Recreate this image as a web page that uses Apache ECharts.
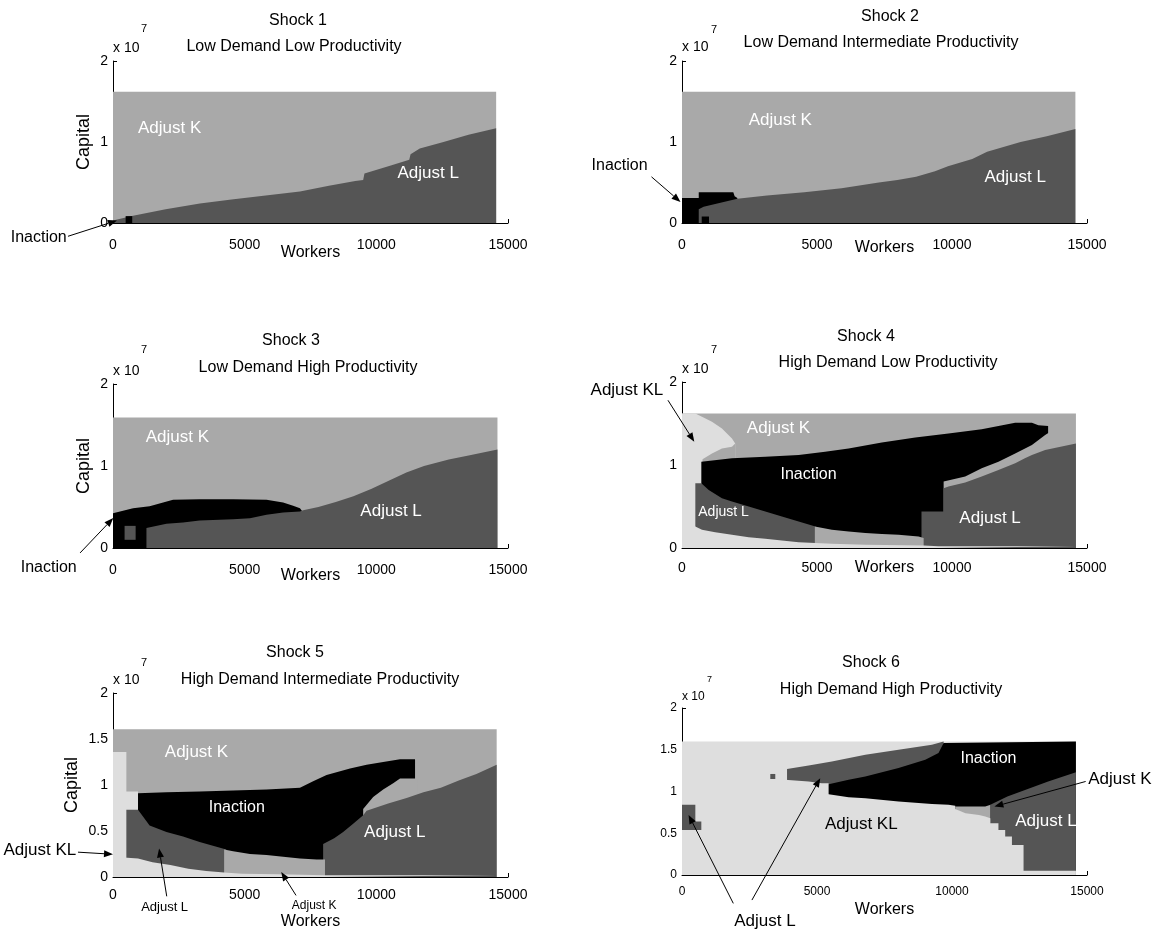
<!DOCTYPE html>
<html><head><meta charset="utf-8">
<script src="https://cdn.jsdelivr.net/npm/echarts@6.0.0/dist/echarts.min.js"></script>
<style>html,body{margin:0;padding:0;background:#fff}#c{width:1165px;height:936px}</style>
</head><body><div id="c"></div>
<script>
// ---------------- DATA (workers, capital in units of 10^7) ----------------
const shockNames = ['Shock 1','Shock 2','Shock 3','Shock 4','Shock 5','Shock 6'];
const shockSubtitles = ['Low Demand Low Productivity','Low Demand Intermediate Productivity','Low Demand High Productivity',
  'High Demand Low Productivity','High Demand Intermediate Productivity','High Demand High Productivity'];
const xTickValues = [0, 5000, 10000, 15000];
const yTickValuesCoarse = [0, 1, 2];
const yTickValuesFine = [0, 0.5, 1, 1.5, 2];
const capitalExponent = '7';
const xAxisName = 'Workers';
const yAxisName = 'Capital';

// Shock 1
const p1AdjustK = [[0,1.62],[14550,1.62]];
const p1AdjustL = [[0,0.03],[760,0.09],[2000,0.17],[3300,0.24],[4500,0.29],[5800,0.34],[7100,0.39],[8200,0.46],[9200,0.52],[9500,0.53],[9550,0.61],[10550,0.71],[11250,0.78],[11300,0.85],[11650,0.92],[12550,1.0],[13500,1.09],[14550,1.17]];
const p1Inaction = [[480,0.085],[730,0.085]];
// Shock 2
const p2AdjustK = [[0,1.62],[14570,1.62]];
const p2Inaction = [[0,0.31],[620,0.31],[620,0.38],[1900,0.38],[1950,0.33],[2050,0.31]];
const p2AdjustL = [[620,0.17],[800,0.2],[2050,0.3],[3150,0.34],[4530,0.38],[5910,0.43],[7290,0.5],[7980,0.53],[8670,0.57],[9370,0.64],[9850,0.7],[10750,0.79],[11300,0.88],[12540,1.0],[13510,1.07],[14570,1.16]];
const p2InactionSpot = [[730,0.08],[1000,0.08]];
// Shock 3
const p3AdjustK = [[0,1.59],[14600,1.59]];
const p3Inaction = [[0,0.425],[760,0.486],[1390,0.51],[2280,0.587],[3290,0.595],[4560,0.595],[5830,0.587],[6460,0.555],[6840,0.514],[7100,0.486],[7220,0.433]];
const p3AdjustL = [[1270,0.243],[2030,0.296],[2660,0.31],[3290,0.336],[4560,0.352],[5200,0.364],[5830,0.405],[6460,0.433],[7100,0.445],[7220,0.46],[7800,0.5],[8460,0.56],[9130,0.63],[9800,0.72],[10470,0.82],[11140,0.92],[11810,1.0],[12750,1.08],[13550,1.13],[14600,1.2]];
const p3AdjustLSpot = [[440,0.27],[860,0.27]];
const p3InactionSpot = [[370,0.1],[930,0.1]];
// Shock 4
const p4AdjustK = [[0,1.62],[14590,1.62]];
const p4AdjustKL = [[0,1.62],[494,1.62],[740,1.58],[1110,1.52],[1480,1.44],[1850,1.32],[1970,1.26]];
const p4AdjustKFan = [[760,1.07],[1110,1.14],[1480,1.2],[1850,1.22],[1970,1.26]];
const p4Inaction = [[716,1.04],[1850,1.08],[3085,1.1],[4320,1.12],[5300,1.16],[6170,1.2],[7400,1.27],[8640,1.33],[9870,1.38],[11100,1.43],[11720,1.47],[12340,1.51],[12960,1.51],[13200,1.48],[13560,1.47]];
const p4AdjustKStrip = [[9690,0.8],[10490,0.86],[11100,0.96],[11720,1.04],[12340,1.14],[12960,1.24],[13450,1.36],[13640,1.4]];
const p4AdjustLRight = [[8870,0.44],[9690,0.44],[9690,0.72],[9870,0.74],[10490,0.79],[11100,0.86],[11720,0.94],[12340,1.02],[12700,1.08],[12960,1.12],[13450,1.18],[14590,1.26]];
const p4AdjustLLeft = [[494,0.78],[716,0.78],[716,0.76],[990,0.7],[1480,0.6],[1850,0.56],[2470,0.5],[3085,0.44],[3700,0.38],[4320,0.32],[4940,0.26],[5000,0.255]];
const p4AdjustKBottom = [[4920,0.26],[5550,0.22],[6170,0.2],[6790,0.18],[7400,0.17],[8020,0.16],[8760,0.14],[8950,0.12]];
const p4AdjustKLBottom = [[0,0.26],[494,0.26],[740,0.22],[1230,0.19],[1850,0.16],[2470,0.13],[3085,0.11],[3700,0.09],[4320,0.07],[4940,0.06],[5550,0.05],[6790,0.04],[8950,0.03],[9500,0.02],[14590,0.02]];
// Shock 5
const p5AdjustK = [[0,1.607],[14570,1.607]];
const p5AdjustKLLeft = [[0,1.36],[507,1.36],[507,0.93],[950,0.93]];
const p5Inaction = [[950,0.91],[2030,0.92],[3290,0.93],[4560,0.94],[5830,0.95],[7100,0.97],[7600,1.04],[8110,1.11],[9000,1.18],[9630,1.22],[10260,1.25],[10900,1.28],[11470,1.28]];
const p5AdjustKStrip = [[9500,0.74],[9880,0.87],[10260,0.95],[10640,1.02],[10900,1.07],[11550,1.07]];
const p5AdjustLRight = [[7980,0.36],[8400,0.42],[8740,0.49],[9120,0.58],[9500,0.67],[9630,0.72],[10450,0.8],[11150,0.86],[11790,0.92],[12450,0.97],[13130,1.05],[13800,1.12],[14570,1.22]];
const p5AdjustLLeft = [[507,0.73],[950,0.73],[950,0.71],[1390,0.56],[2030,0.49],[2660,0.44],[3290,0.38],[3930,0.33],[4300,0.3]];
const p5AdjustKBottom = [[4220,0.3],[4560,0.28],[5200,0.25],[5830,0.24],[6460,0.22],[7100,0.2],[7730,0.19],[8050,0.19]];
const p5AdjustKLBottom = [[0,0.22],[950,0.2],[1500,0.16],[2180,0.13],[2860,0.09],[3540,0.065],[4220,0.05],[4900,0.035],[6250,0.03],[8050,0.02],[14570,0.02]];
// Shock 6
const p6AdjustKL = [[0,1.6],[14590,1.6]];
const p6AdjustLUpperSpot = [[3270,1.21],[3455,1.21]];
const p6AdjustLUpper = [[3890,1.27],[4690,1.31],[5550,1.36],[6790,1.44],[8020,1.5],[9255,1.56],[9690,1.6]];
const p6Inaction = [[5350,1.08],[6170,1.14],[6790,1.18],[8020,1.28],[9010,1.38],[9500,1.46],[9690,1.58],[9720,1.6],[14590,1.6]];
const p6AdjustKLCutSpot = [[3190,1.15],[3535,1.15]];
const p6AdjustKLCut = [[3810,1.14],[4690,1.12],[5180,1.1],[5430,1.1]];
const p6AdjustKStrip = [[10120,0.82],[11000,0.82],[11230,0.82],[11430,0.84]];
const p6AdjustLRight = [[11420,0.84],[12050,0.94],[12730,1.02],[13560,1.12],[14590,1.23]];
const p6AdjustKLLower = [[5370,0.97],[6170,0.93],[6790,0.92],[8020,0.88],[9255,0.85],[9870,0.84],[10120,0.83],[10120,0.79],[10500,0.74],[11000,0.72],[11230,0.7],[11420,0.68],[11420,0.62],[11720,0.62],[11720,0.54],[11970,0.54],[11970,0.46],[12220,0.46],[12220,0.36],[12650,0.36],[12650,0.05],[14590,0.05]];
const p6AdjustLLeft = [[0,0.84],[494,0.84],[494,0.64],[716,0.64]];
const p6AdjustKLLeft = [[0,0.54],[800,0.54]];

// annotations: [text, workers, capital]
const p1Notes = [['Adjust K',2150,1.17],['Adjust L',11970,0.61],['Inaction',-2820,-0.18]];
const p2Notes = [['Adjust K',3640,1.27],['Adjust L',12340,0.57],['Inaction',-2310,0.71]];
const p3Notes = [['Adjust K',2445,1.35],['Adjust L',10560,0.445],['Inaction',-2440,-0.243]];
const p4Notes = [['Adjust K',3575,1.44],['Inaction',4686,0.89],['Adjust L',1540,0.43],['Adjust L',11410,0.36],['Adjust KL',-2040,1.9]];
const p5Notes = [['Adjust K',3170,1.36],['Inaction',4700,0.75],['Adjust L',10700,0.49],['Adjust KL',-2780,0.29],['Adjust L',1960,-0.327],['Adjust K',7640,-0.31]];
const p6Notes = [['Inaction',11350,1.39],['Adjust KL',6640,0.61],['Adjust L',13480,0.64],['Adjust K',16220,1.14],['Adjust L',3070,-0.56]];
// arrows: [[fromWorkers, fromCapital],[toWorkers, toCapital]]
const p1Arrows = [[[-1710,-0.164],[150,0.03]]];
const p2Arrows = [[[-1130,0.57],[-55,0.26]]];
const p3Arrows = [[[-1250,-0.06],[10,0.365]]];
const p4Arrows = [[[-520,1.78],[455,1.28]]];
const p5Arrows = [[[-1330,0.27],[0,0.247]],[[2040,-0.21],[1750,0.31]],[[6950,-0.2],[6390,0.055]]];
const p6Arrows = [[[14950,1.12],[11570,0.82]],[[1900,-0.34],[244,0.72]],[[2590,-0.3],[5120,1.16]]];

// ---------------- STYLE / LAYOUT ----------------
const FONT = "'Liberation Sans', Arial, Helvetica, sans-serif";
const COLORS = {'Adjust K':'#a9a9a9','Adjust L':'#555555','Inaction':'#000000','Adjust KL':'#dedede'};
const W = '#ffffff', B = '#000000';
const noteStyles = [
  [[W,17],[W,17],[B,16]],
  [[W,17],[W,17],[B,16]],
  [[W,17],[W,17],[B,16]],
  [[W,17],[W,16],[W,14],[W,17],[B,17]],
  [[W,17],[W,16],[W,17],[B,17],[B,13],[B,12]],
  [[W,16],[B,17],[W,17],[B,17],[B,17]]
];
const LAYOUT = [
  {left:113,top:61,width:395,height:162,xMargin:15,xNameGap:22,yName:true,yNameGap:20,t1:[298,21],t2:[294,47],tick:14,yTicks:yTickValuesCoarse,ex:[0,-13,28,-32,14]},
  {left:682,top:61,width:405,height:162,xMargin:15,xNameGap:17,yName:false,t1:[890,17],t2:[881,43],tick:14,yTicks:yTickValuesCoarse,ex:[0,-14,29,-31,14]},
  {left:113,top:384,width:395,height:164,xMargin:15,xNameGap:20,yName:true,yNameGap:20,t1:[291,341],t2:[308,368],tick:14,yTicks:yTickValuesCoarse,ex:[0,-13,28,-34,14]},
  {left:682,top:382,width:405,height:166,xMargin:13,xNameGap:12,yName:false,t1:[866,337],t2:[888,363],tick:14,yTicks:yTickValuesCoarse,ex:[0,-13,29,-32,14]},
  {left:113,top:693,width:395,height:184,xMargin:11,xNameGap:37,yName:true,yNameGap:32,t1:[295,653],t2:[320,680],tick:14,yTicks:yTickValuesFine,ex:[0,-13,28,-30,14]},
  {left:682,top:708,width:405,height:167,xMargin:11,xNameGap:27,yName:false,t1:[871,663],t2:[891,690],tick:12,yTicks:yTickValuesFine,ex:[0,-11,25,-28,12]}
];

const panelLayers = [
  [['Adjust K',p1AdjustK],['Adjust L',p1AdjustL],['Inaction',p1Inaction]],
  [['Adjust K',p2AdjustK],['Inaction',p2Inaction],['Adjust L',p2AdjustL],['Inaction',p2InactionSpot]],
  [['Adjust K',p3AdjustK],['Inaction',p3Inaction],['Adjust L',p3AdjustL],['Adjust L',p3AdjustLSpot],['Inaction',p3InactionSpot]],
  [['Adjust K',p4AdjustK],['Adjust KL',p4AdjustKL],['Adjust K',p4AdjustKFan],['Inaction',p4Inaction],
   ['Adjust K',p4AdjustKStrip],['Adjust L',p4AdjustLRight],['Adjust L',p4AdjustLLeft],['Adjust K',p4AdjustKBottom],['Adjust KL',p4AdjustKLBottom]],
  [['Adjust K',p5AdjustK],['Adjust KL',p5AdjustKLLeft],['Inaction',p5Inaction],['Adjust K',p5AdjustKStrip],['Adjust L',p5AdjustLRight],
   ['Adjust L',p5AdjustLLeft],['Adjust K',p5AdjustKBottom],['Adjust KL',p5AdjustKLBottom]],
  [['Adjust KL',p6AdjustKL],['Adjust L',p6AdjustLUpperSpot],['Adjust L',p6AdjustLUpper],['Inaction',p6Inaction],['Adjust KL',p6AdjustKLCutSpot],
   ['Adjust KL',p6AdjustKLCut],['Adjust K',p6AdjustKStrip],['Adjust L',p6AdjustLRight],['Adjust KL',p6AdjustKLLower],['Adjust L',p6AdjustLLeft],['Adjust KL',p6AdjustKLLeft]]
];
const panelNotes = [p1Notes,p2Notes,p3Notes,p4Notes,p5Notes,p6Notes];
const panelArrows = [p1Arrows,p2Arrows,p3Arrows,p4Arrows,p5Arrows,p6Arrows];

// ---------------- CHART ----------------
const chart = echarts.init(document.getElementById('c'), null, {renderer:'canvas'});
const series = [];
panelLayers.forEach((layers, i) => {
  layers.forEach(([name, data]) => {
    series.push({
      type:'line', name, xAxisIndex:i, yAxisIndex:i, data,
      symbol:'none', showSymbol:false, silent:true, animation:false,
      lineStyle:{width:0, opacity:0}, areaStyle:{color:COLORS[name], opacity:1},
      emphasis:{disabled:true}, z:2
    });
  });
});
const axisLineStyle = {show:true, onZero:false, lineStyle:{color:'#000', width:1}};
const axisTickStyle = {show:true, inside:true, length:4, lineStyle:{color:'#000', width:1}};
const plain = v => String(v);
const option = {
  backgroundColor:'#ffffff',
  animation:false,
  grid: LAYOUT.map(l => ({left:l.left, top:l.top, width:l.width, height:l.height, containLabel:false, outerBoundsMode:'none'})),
  xAxis: LAYOUT.map((l,i) => ({
    type:'value', gridIndex:i, min:xTickValues[0], max:xTickValues[xTickValues.length-1], interval:xTickValues[1]-xTickValues[0],
    axisLine:axisLineStyle, axisTick:axisTickStyle, splitLine:{show:false},
    axisLabel:{color:'#000', fontSize:l.tick, fontFamily:FONT, margin:l.xMargin, formatter:plain},
    name:xAxisName, nameLocation:'middle', nameGap:l.xNameGap, nameMoveOverlap:false,
    nameTextStyle:{color:'#000', fontSize:16, fontFamily:FONT}
  })),
  yAxis: LAYOUT.map((l,i) => ({
    type:'value', gridIndex:i, min:l.yTicks[0], max:l.yTicks[l.yTicks.length-1], interval:l.yTicks[1]-l.yTicks[0],
    axisLine:axisLineStyle, axisTick:axisTickStyle, splitLine:{show:false},
    axisLabel:{color:'#000', fontSize:l.tick, fontFamily:FONT, margin:5, formatter:plain},
    name:l.yName ? yAxisName : '', nameLocation:'middle', nameGap:l.yNameGap || 20, nameMoveOverlap:false,
    nameTextStyle:{color:'#000', fontSize:18, fontFamily:FONT}
  })),
  series
};
chart.setOption(option);

// ---------------- TEXT & ARROWS ----------------
function txt(x, y, text, size, fill, align) {
  return {type:'text', x, y, z:100, silent:true,
    style:{text, fill, font:size+'px '+FONT, align:align||'center', verticalAlign:'middle',
           textAlign:align||'center', textVerticalAlign:'middle'}};
}
const graphics = [];
LAYOUT.forEach((l, i) => {
  graphics.push(txt(l.t1[0], l.t1[1], shockNames[i], 16, '#000'));
  graphics.push(txt(l.t2[0], l.t2[1], shockSubtitles[i], 16, '#000'));
  const ex = l.ex;
  graphics.push(txt(l.left + ex[0], l.top + ex[1], 'x 10', ex[4], '#000', 'left'));
  graphics.push(txt(l.left + ex[2], l.top + ex[3], capitalExponent, ex[4] - 3, '#000', 'left'));
  panelNotes[i].forEach((n, k) => {
    const p = chart.convertToPixel({gridIndex:i}, [n[1], n[2]]);
    const st = noteStyles[i][k];
    graphics.push(txt(p[0], p[1], n[0], st[1], st[0]));
  });
  panelArrows[i].forEach(a => {
    const p1 = chart.convertToPixel({gridIndex:i}, a[0]);
    const p2 = chart.convertToPixel({gridIndex:i}, a[1]);
    const dx = p2[0]-p1[0], dy = p2[1]-p1[1], len = Math.hypot(dx,dy);
    const ux = dx/len, uy = dy/len, hl = 9, hw = 3.5;
    const bx = p2[0]-ux*hl, by = p2[1]-uy*hl;
    graphics.push({type:'line', z:100, silent:true, shape:{x1:p1[0], y1:p1[1], x2:bx, y2:by}, style:{stroke:'#000', lineWidth:1}});
    graphics.push({type:'polygon', z:100, silent:true,
      shape:{points:[[p2[0],p2[1]],[bx - uy*hw, by + ux*hw],[bx + uy*hw, by - ux*hw]]}, style:{fill:'#000'}});
  });
});
chart.setOption({graphic: graphics});
</script>
</body></html>
